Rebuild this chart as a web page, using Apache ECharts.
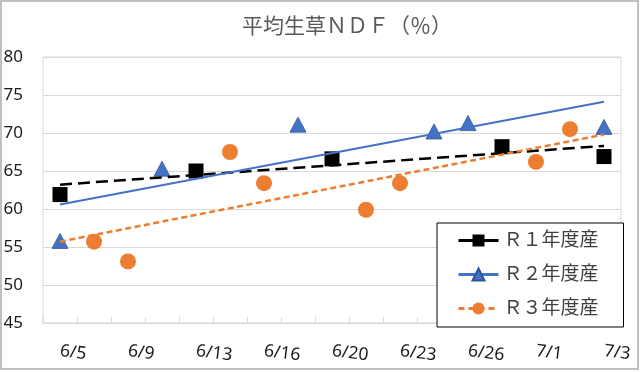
<!DOCTYPE html>
<html>
<head>
<meta charset="utf-8">
<script src="https://cdn.jsdelivr.net/npm/echarts@6/dist/echarts.min.js"></script>
<style>
html,body{margin:0;padding:0;background:#fff;}
#main{width:640px;height:372px;}
</style>
</head>
<body>
<div id="main"></div>
<script>
// ---- data ----
const titleText = '平均生草ＮＤＦ（％）';
const categories = ['6/5','6/7','6/9','6/11','6/13','6/14','6/16','6/18','6/20','6/21','6/23','6/24','6/26','6/28','7/1','7/2','7/3'];
const seriesNames = ['Ｒ１年度産', 'Ｒ２年度産', 'Ｒ３年度産'];
const r1Values = [61.9, null, null, null, 65.0, null, null, null, 66.6, null, null, null, null, 68.2, null, null, 66.9];
const r2Values = [55.8, null, null, 65.3, null, null, null, 71.1, null, null, null, 70.2, 71.3, null, null, null, 70.8];
const r3Values = [null, 55.7, 53.1, null, null, 67.5, 63.4, null, null, 59.9, 63.4, null, null, null, 66.2, 70.5, null];
// linear trend lines: value at first and last category
const r1Trend = [63.2, 68.3];
const r2Trend = [60.6, 74.1];
const r3Trend = [55.7, 69.8];
const yMin = 45, yMax = 80, yStep = 5;

const colors = ['#000000', '#4472C4', '#ED7D31'];
const FONT = '"Noto Sans", "Noto Sans CJK JP", sans-serif';

function trendData(t) {
  return [[categories[0], t[0]], [categories[categories.length - 1], t[1]]];
}

const chart = echarts.init(document.getElementById('main'), null, {renderer: 'canvas'});
chart.setOption({
  animation: false,
  backgroundColor: '#ffffff',
  textStyle: {fontFamily: FONT},
  title: {
    text: titleText,
    left: 242,
    top: 17,
    padding: 0,
    textStyle: {fontSize: 21, fontWeight: 'normal', color: '#595959', fontFamily: FONT}
  },
  graphic: [{
    type: 'rect',
    shape: {x: 1, y: 1, width: 637, height: 368},
    style: {fill: 'none', stroke: '#c0c0c0', lineWidth: 2},
    silent: true,
    z: 100
  }],
  grid: {
    left: 43, right: 19, top: 57, bottom: 49,
    show: true, borderColor: '#d9d9d9', borderWidth: 1
  },
  legend: {
    orient: 'vertical',
    left: 437, top: 223,
    padding: [8, 25, 9, 20],
    itemWidth: 40, itemHeight: 15, itemGap: 15,
    backgroundColor: '#ffffff',
    borderColor: '#000000', borderWidth: 1,
    textStyle: {fontSize: 19, color: '#404040', lineHeight: 18, fontFamily: FONT},
    data: [
      {name: seriesNames[0], lineStyle: {color: colors[0], width: 3, type: 'solid', opacity: 1}, itemStyle: {color: colors[0]}},
      {name: seriesNames[1], lineStyle: {color: colors[1], width: 3, type: 'solid', opacity: 1}, itemStyle: {color: colors[1]}},
      {name: seriesNames[2], lineStyle: {color: colors[2], width: 3, type: [6, 4], opacity: 1}, itemStyle: {color: colors[2]}}
    ],
    z: 20
  },
  xAxis: {
    type: 'category',
    data: categories,
    boundaryGap: true,
    axisLine: {show: true, lineStyle: {color: '#d9d9d9', width: 1}},
    axisTick: {show: true, inside: true, length: 6, interval: 0, lineStyle: {color: '#d9d9d9'}},
    axisLabel: {interval: 1, rotate: -7, margin: 28, fontSize: 17.5, color: '#1a1a1a', fontFamily: FONT},
    splitLine: {show: false}
  },
  yAxis: {
    type: 'value',
    min: yMin, max: yMax, interval: yStep,
    axisLine: {show: false},
    axisTick: {show: false},
    axisLabel: {fontSize: 17, color: '#1a1a1a', margin: 20, fontFamily: FONT},
    splitLine: {show: true, lineStyle: {color: '#d9d9d9', width: 1}}
  },
  series: [
    {
      name: seriesNames[0], type: 'line', data: r1Values,
      symbol: 'rect', symbolSize: 15, showAllSymbol: true, connectNulls: false,
      itemStyle: {color: colors[0]}, lineStyle: {width: 0, opacity: 0}, z: 3
    },
    {
      name: seriesNames[1], type: 'line', data: r2Values,
      symbol: 'triangle', symbolSize: [16, 15], showAllSymbol: true, connectNulls: false,
      itemStyle: {color: colors[1], borderColor: '#2F5597', borderWidth: 0.8}, lineStyle: {width: 0, opacity: 0}, z: 3
    },
    {
      name: seriesNames[2], type: 'line', data: r3Values,
      symbol: 'circle', symbolSize: 16, showAllSymbol: true, connectNulls: false,
      itemStyle: {color: colors[2]}, lineStyle: {width: 0, opacity: 0}, z: 3
    },
    {
      name: 'trend1', type: 'line', data: trendData(r1Trend), symbol: 'none', silent: true,
      lineStyle: {color: colors[0], width: 2.5, type: [12, 6]}, z: 4
    },
    {
      name: 'trend2', type: 'line', data: trendData(r2Trend), symbol: 'none', silent: true,
      lineStyle: {color: colors[1], width: 2, type: 'solid'}, z: 4
    },
    {
      name: 'trend3', type: 'line', data: trendData(r3Trend), symbol: 'none', silent: true,
      lineStyle: {color: colors[2], width: 2.5, type: [6, 3.5]}, z: 4
    }
  ]
});
</script>
</body>
</html>
